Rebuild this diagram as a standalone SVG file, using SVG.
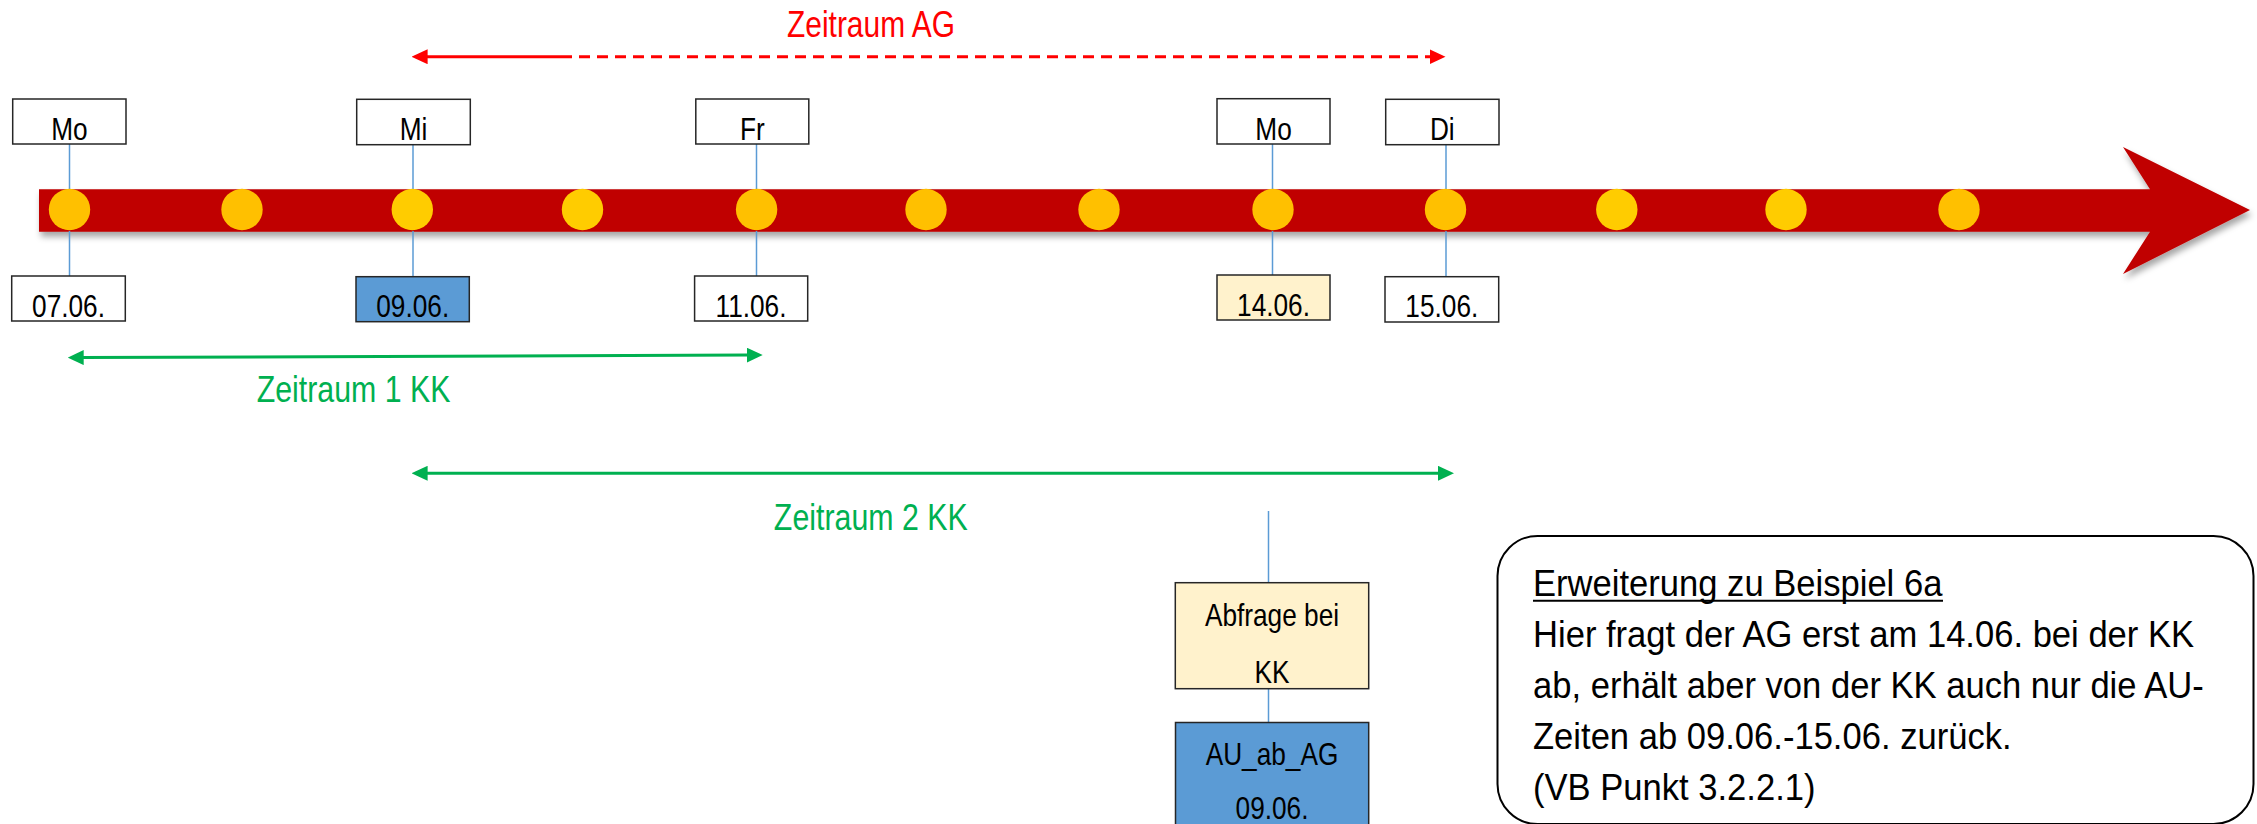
<svg xmlns="http://www.w3.org/2000/svg" width="2257" height="824" viewBox="0 0 2257 824">
<style>
.box{stroke:#262626;stroke-width:1.5}
.w{fill:#ffffff}
.blue{fill:#5B9BD5}
.cream{fill:#FFF2CC}
.lbl{font-family:"Liberation Sans",Arial,sans-serif;font-size:32px;fill:#000;text-anchor:middle}
.big{font-family:"Liberation Sans",Arial,sans-serif;font-size:37px;text-anchor:middle}
.note{font-family:"Liberation Sans",Arial,sans-serif;font-size:37px;fill:#000}
.tick{stroke:#5B9BD5;stroke-width:1.5;fill:none}
.dotA{fill:#FFC000}
.dotB{fill:#FFCC00}
.red{stroke:#FF0000;stroke-width:3;fill:none}
.green{stroke:#00B050;stroke-width:3;fill:none}
</style>
<defs>
<filter id="sh" x="-5%" y="-50%" width="110%" height="200%">
<feDropShadow dx="2" dy="5" stdDeviation="3" flood-color="#000" flood-opacity="0.35"/>
</filter>
<marker id="ar" viewBox="0 0 16 15" refX="2" refY="7.5" markerWidth="16" markerHeight="15" markerUnits="userSpaceOnUse" orient="auto-start-reverse">
<path d="M0,0 L16,7.5 L0,15 z" fill="#FF0000" stroke="none"/>
</marker>
<marker id="ag" viewBox="0 0 16 15" refX="2" refY="7.5" markerWidth="16" markerHeight="15" markerUnits="userSpaceOnUse" orient="auto-start-reverse">
<path d="M0,0 L16,7.5 L0,15 z" fill="#00B050" stroke="none"/>
</marker>
</defs>
<rect width="2257" height="824" fill="#ffffff"/>

<g id="timeline">
<polygon points="39,189.3 2150,189.3 2123,147 2250,210 2123,274 2150,231.7 39,231.7" fill="#C00000" filter="url(#sh)"/>
</g>

<g id="connectors">
<line class="tick" x1="69.5" y1="144" x2="69.5" y2="190"/>
<line class="tick" x1="69.5" y1="231" x2="69.5" y2="276"/>
<line class="tick" x1="413" y1="144.5" x2="413" y2="190"/>
<line class="tick" x1="413" y1="231" x2="413" y2="276.5"/>
<line class="tick" x1="756.5" y1="144" x2="756.5" y2="190"/>
<line class="tick" x1="756.5" y1="231" x2="756.5" y2="276"/>
<line class="tick" x1="1272.5" y1="144" x2="1272.5" y2="190"/>
<line class="tick" x1="1272.5" y1="231" x2="1272.5" y2="275"/>
<line class="tick" x1="1446" y1="145" x2="1446" y2="190"/>
<line class="tick" x1="1446" y1="231" x2="1446" y2="276.5"/>
<line class="tick" x1="1268.5" y1="511" x2="1268.5" y2="582.7"/>
<line class="tick" x1="1268.5" y1="688.7" x2="1268.5" y2="722.3"/>
<line class="red" x1="425.6" y1="56.7" x2="561" y2="56.7" marker-start="url(#ar)"/>
<line class="red" x1="561" y1="56.7" x2="1431.5" y2="56.7" stroke-dasharray="11 7" marker-end="url(#ar)"/>
<line class="green" x1="81.7" y1="357.6" x2="748.7" y2="355.1" marker-start="url(#ag)" marker-end="url(#ag)"/>
<line class="green" x1="425.6" y1="473.3" x2="1440" y2="473.3" marker-start="url(#ag)" marker-end="url(#ag)"/>
</g>

<g id="dots">
<circle class="dotA" cx="69.5" cy="209.5" r="20.7"/>
<circle class="dotA" cx="242" cy="209.5" r="20.7"/>
<circle class="dotB" cx="412.3" cy="209.5" r="20.7"/>
<circle class="dotB" cx="582.5" cy="209.5" r="20.7"/>
<circle class="dotA" cx="756.6" cy="209.5" r="20.7"/>
<circle class="dotA" cx="926" cy="209.5" r="20.7"/>
<circle class="dotA" cx="1099" cy="209.5" r="20.7"/>
<circle class="dotA" cx="1273" cy="209.5" r="20.7"/>
<circle class="dotA" cx="1445.5" cy="209.5" r="20.7"/>
<circle class="dotB" cx="1616.8" cy="209.5" r="20.7"/>
<circle class="dotB" cx="1786" cy="209.5" r="20.7"/>
<circle class="dotA" cx="1959" cy="209.5" r="20.7"/>
</g>

<g id="day-mo1"><rect class="box w" x="12.7" y="99" width="113.3" height="45"/><text class="lbl" transform="translate(69.4,140) scale(0.82,1)">Mo</text></g>
<g id="day-mi"><rect class="box w" x="356.7" y="99.3" width="113.6" height="45.4"/><text class="lbl" transform="translate(413.5,140.3) scale(0.82,1)">Mi</text></g>
<g id="day-fr"><rect class="box w" x="695.8" y="99" width="113" height="45"/><text class="lbl" transform="translate(752.3,140) scale(0.82,1)">Fr</text></g>
<g id="day-mo2"><rect class="box w" x="1217" y="98.7" width="113" height="45.3"/><text class="lbl" transform="translate(1273.5,140) scale(0.82,1)">Mo</text></g>
<g id="day-di"><rect class="box w" x="1385.7" y="99.3" width="113.3" height="45.4"/><text class="lbl" transform="translate(1442.3,140.3) scale(0.82,1)">Di</text></g>

<g id="date-0706"><rect class="box w" x="11.7" y="276" width="113.6" height="45"/><text class="lbl" transform="translate(68.5,316.7) scale(0.82,1)">07.06.</text></g>
<g id="date-0906"><rect class="box blue" x="356" y="276.7" width="113.3" height="45"/><text class="lbl" transform="translate(412.7,317.3) scale(0.82,1)">09.06.</text></g>
<g id="date-1106"><rect class="box w" x="694.6" y="276" width="113.1" height="45"/><text class="lbl" transform="translate(751,316.7) scale(0.82,1)">11.06.</text></g>
<g id="date-1406"><rect class="box cream" x="1217" y="275" width="113" height="45"/><text class="lbl" transform="translate(1273.5,315.7) scale(0.82,1)">14.06.</text></g>
<g id="date-1506"><rect class="box w" x="1385" y="276.7" width="113.7" height="45.3"/><text class="lbl" transform="translate(1441.8,317.3) scale(0.82,1)">15.06.</text></g>

<g id="label-ag"><text class="big" fill="#FF0000" transform="translate(871,37) scale(0.82,1)" style="font-size:36.5px">Zeitraum AG</text></g>
<g id="label-kk1"><text class="big" fill="#00B050" transform="translate(353.6,401.7) scale(0.82,1)">Zeitraum 1 KK</text></g>
<g id="label-kk2"><text class="big" fill="#00B050" transform="translate(870.8,530) scale(0.82,1)">Zeitraum 2 KK</text></g>

<g id="abfrage"><rect class="box cream" x="1175.3" y="582.7" width="193.4" height="106"/>
<text class="lbl" transform="translate(1272,625.7) scale(0.82,1)">Abfrage bei</text>
<text class="lbl" transform="translate(1272,682.7) scale(0.82,1)">KK</text></g>

<g id="au-ab-ag"><rect class="box blue" x="1175.5" y="722.5" width="193.2" height="110"/>
<text class="lbl" transform="translate(1272,765) scale(0.82,1)">AU_ab_AG</text>
<text class="lbl" transform="translate(1272,818.5) scale(0.82,1)">09.06.</text></g>

<g id="note">
<rect x="1497.5" y="536" width="756" height="288" rx="40" ry="40" fill="#ffffff" stroke="#000" stroke-width="2"/>
<g transform="translate(1533,0) scale(0.935,1)">
<text class="note" x="0" y="596">Erweiterung zu Beispiel 6a</text>
<text class="note" x="0" y="647">Hier fragt der AG erst am 14.06. bei der KK</text>
<text class="note" x="0" y="698">ab, erhält aber von der KK auch nur die AU-</text>
<text class="note" x="0" y="749">Zeiten ab 09.06.-15.06. zurück.</text>
<text class="note" x="0" y="800">(VB Punkt 3.2.2.1)</text>
</g>
<line x1="1533" y1="600.7" x2="1943" y2="600.7" stroke="#000" stroke-width="2"/>
</g>
</svg>
